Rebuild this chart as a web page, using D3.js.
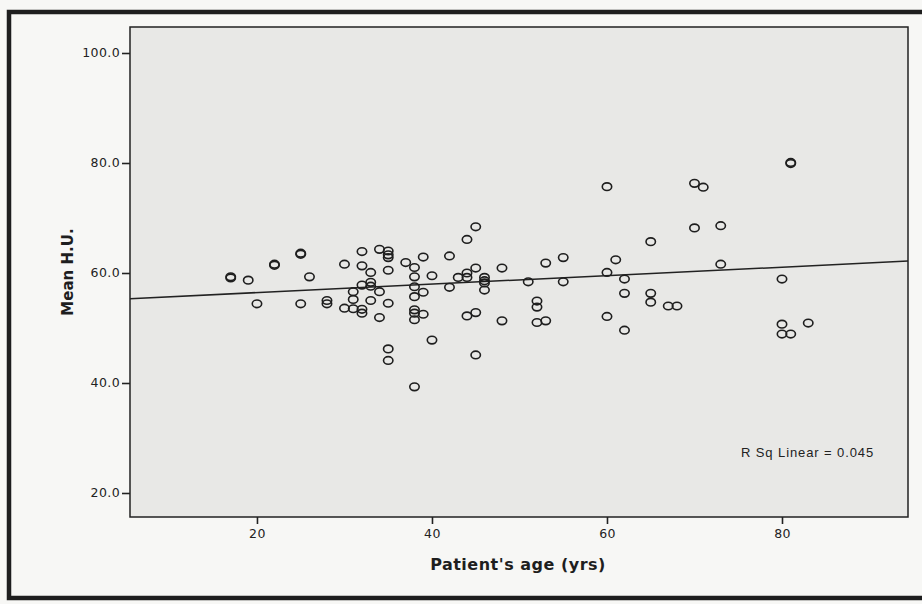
<!DOCTYPE html>
<html>
<head>
<meta charset="utf-8">
<script src="https://cdn.jsdelivr.net/npm/d3@7"></script>
<style>
  html, body { margin: 0; padding: 0; background: #f7f7f5; }
  svg { display: block; }
</style>
</head>
<body>
<svg id="chart" width="922" height="604"></svg>
<script>
// values
var ages = [17, 17, 19, 20, 22, 22, 25, 25, 25, 26, 28, 28,
  30, 30, 31, 31, 31, 32, 32, 32, 32, 32, 33, 33, 33, 33,
  34, 34, 34, 35, 35, 35, 35, 35, 35, 35, 37,
  38, 38, 38, 38, 38, 38, 38, 38, 39, 39, 39, 40, 40,
  42, 42, 43, 44, 44, 44, 44, 45, 45, 45, 45, 46, 46, 46, 46,
  48, 48, 51, 52, 52, 52, 53, 53, 55, 55,
  60, 60, 60, 61, 62, 62, 62, 65, 65, 65, 67, 68,
  70, 70, 71, 73, 73, 80, 80, 80, 81, 81, 81, 83];
var meanHU = [59.3, 59.1, 58.7, 54.4, 61.6, 61.4, 63.6, 63.4, 54.4, 59.3, 55.0, 54.4,
  61.6, 53.6, 56.6, 55.2, 53.5, 63.9, 61.3, 57.8, 53.4, 52.7, 60.1, 58.3, 57.6, 55.0,
  64.3, 56.6, 51.9, 64.0, 63.3, 62.8, 60.5, 54.5, 46.2, 44.1, 61.9,
  61.0, 59.3, 57.5, 55.7, 53.3, 52.7, 51.5, 39.3, 62.9, 56.5, 52.5, 59.5, 47.8,
  63.1, 57.4, 59.2, 66.1, 60.0, 59.2, 52.2, 68.4, 60.9, 52.8, 45.1, 59.2, 58.6, 58.2, 56.9,
  60.9, 51.3, 58.4, 54.9, 53.8, 51.0, 61.8, 51.3, 62.8, 58.4,
  75.7, 60.1, 52.1, 62.4, 58.9, 56.3, 49.6, 65.7, 56.3, 54.7, 54.0, 54.0,
  76.3, 68.2, 75.6, 68.6, 61.6, 58.9, 50.7, 48.9, 80.1, 79.9, 48.9, 50.9];

var xTicks = [20, 40, 60, 80];
var yTicks = [20, 40, 60, 80, 100];

// fit line as drawn in the reference
var fitIntercept = 54.9;
var fitSlope = 0.077;
var fitLabel = "R Sq Linear = 0.045";

var xTitle = "Patient's age (yrs)";
var yTitle = "Mean H.U.";

var plot = { left: 130, top: 27, right: 908, bottom: 517 };

var svg = d3.select("#chart");

// scanned page frame
svg.append("rect")
  .attr("x", 9).attr("y", 12)
  .attr("width", 930).attr("height", 586)
  .attr("fill", "none")
  .attr("stroke", "#1e1e1e")
  .attr("stroke-width", 4.5);

var x = d3.scaleLinear().domain([5.49, 94.4]).range([plot.left, plot.right]);
var y = d3.scaleLinear().domain([15.636, 104.727]).range([plot.bottom, plot.top]);

svg.append("rect")
  .attr("x", plot.left).attr("y", plot.top)
  .attr("width", plot.right - plot.left)
  .attr("height", plot.bottom - plot.top)
  .attr("fill", "#e8e8e6");

var g = svg.append("g");

// fit line, clipped to the plot box
svg.append("clipPath").attr("id", "clip")
  .append("rect")
  .attr("x", plot.left).attr("y", plot.top)
  .attr("width", plot.right - plot.left)
  .attr("height", plot.bottom - plot.top);

var xd = x.domain();
g.append("line")
  .attr("clip-path", "url(#clip)")
  .attr("x1", x(xd[0])).attr("y1", y(fitIntercept + fitSlope * xd[0]))
  .attr("x2", x(xd[1])).attr("y2", y(fitIntercept + fitSlope * xd[1]))
  .attr("stroke", "#222")
  .attr("stroke-width", 1.5);

var pts = ages.map(function(a, i) { return { age: a, hu: meanHU[i] }; });

g.selectAll("ellipse").data(pts).enter().append("ellipse")
  .attr("cx", function(d) { return x(d.age); })
  .attr("cy", function(d) { return y(d.hu); })
  .attr("rx", 4.7)
  .attr("ry", 3.8)
  .attr("fill", "none")
  .attr("stroke", "#1e1e1e")
  .attr("stroke-width", 1.6);

svg.append("rect")
  .attr("x", plot.left).attr("y", plot.top)
  .attr("width", plot.right - plot.left)
  .attr("height", plot.bottom - plot.top)
  .attr("fill", "none")
  .attr("stroke", "#222")
  .attr("stroke-width", 1.5);

var xAxis = svg.append("g")
  .attr("transform", "translate(0," + plot.bottom + ")")
  .call(d3.axisBottom(x).tickValues(xTicks).tickSize(7).tickPadding(5));
var yAxis = svg.append("g")
  .attr("transform", "translate(" + plot.left + ",0)")
  .call(d3.axisLeft(y).tickValues(yTicks).tickFormat(d3.format(".1f")).tickSize(8).tickPadding(2));

[xAxis, yAxis].forEach(function(ax) {
  ax.select(".domain").remove();
  ax.selectAll("line").attr("stroke", "#222").attr("stroke-width", 1.6);
  ax.selectAll("text")
    .attr("fill", "#222")
    .style("font-family", "'DejaVu Sans', Verdana, sans-serif")
    .style("font-size", "12.5px")
    .style("letter-spacing", "0.4px");
});

svg.append("text")
  .attr("x", 518).attr("y", 570)
  .attr("text-anchor", "middle")
  .style("font-family", "'DejaVu Sans', Verdana, sans-serif")
  .style("font-weight", "bold")
  .style("font-size", "16px")
  .style("letter-spacing", "0.5px")
  .attr("fill", "#1e1e1e")
  .text(xTitle);

svg.append("text")
  .attr("transform", "translate(73,272) rotate(-90)")
  .attr("text-anchor", "middle")
  .style("font-family", "'DejaVu Sans', Verdana, sans-serif")
  .style("font-weight", "bold")
  .style("font-size", "15px")
  .attr("fill", "#1e1e1e")
  .text(yTitle);

svg.append("text")
  .attr("x", 741).attr("y", 457)
  .style("font-family", "'Liberation Sans', Arial, sans-serif")
  .style("font-size", "13px")
  .style("letter-spacing", "0.9px")
  .attr("fill", "#222")
  .text(fitLabel);
</script>
</body>
</html>
